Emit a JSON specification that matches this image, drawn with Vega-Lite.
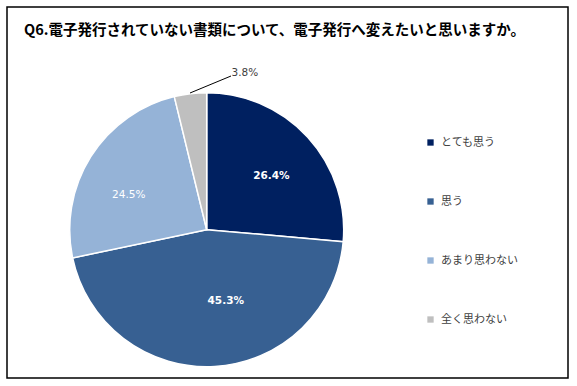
{
  "$schema": "https://vega.github.io/schema/vega-lite/v6.json",
  "width": 561,
  "height": 371,
  "autosize": "none",
  "padding": {"left": 7, "top": 7, "right": 9, "bottom": 8},
  "background": "white",
  "config": {
    "view": {"stroke": "black", "strokeWidth": 1.5},
    "font": "Noto Sans CJK JP"
  },
  "title": {
    "text": "Q6.電子発行されていない書類について、電子発行へ変えたいと思いますか。",
    "font": "Noto Sans CJK JP",
    "fontSize": 14.5,
    "fontWeight": "bold",
    "color": "#000000",
    "anchor": "middle",
    "frame": "group",
    "baseline": "middle",
    "offset": -23,
    "dx": -13,
    "dy": 15
  },
  "data": {
    "values": [
      {"cat": "とても思う", "value": 26.4, "label": "26.4%", "order": 1},
      {"cat": "思う", "value": 45.3, "label": "45.3%", "order": 2},
      {"cat": "あまり思わない", "value": 24.5, "label": "24.5%", "order": 3},
      {"cat": "全く思わない", "value": 3.8, "label": "3.8%", "order": 4}
    ]
  },
  "encoding": {
    "theta": {"field": "value", "type": "quantitative", "stack": true},
    "order": {"field": "order", "type": "ordinal"}
  },
  "layer": [
    {
      "mark": {"type": "arc", "outerRadius": 137, "stroke": "white", "strokeWidth": 1.5, "x": 199.7, "y": 222.7},
      "encoding": {
        "color": {
          "field": "cat",
          "type": "nominal",
          "scale": {
            "domain": ["とても思う", "思う", "あまり思わない", "全く思わない"],
            "range": ["#002060", "#376092", "#95B3D7", "#BFBFBF"]
          },
          "legend": {
            "title": null,
            "orient": "none",
            "legendX": 418,
            "legendY": 130,
            "symbolType": "square",
            "symbolSize": 40,
            "symbolStrokeWidth": 0,
            "labelFont": "Noto Sans CJK JP",
            "labelFontSize": 11,
            "labelColor": "#404040",
            "labelOffset": 5,
            "rowPadding": 47,
            "padding": 0
          }
        }
      }
    },
    {
      "mark": {"type": "text", "radius": 85, "x": 199.7, "y": 222.7, "dx": 2, "dy": 4, "font": "DejaVu Sans", "fontSize": 10.5, "fontWeight": "bold", "fill": "white", "align": "center", "baseline": "middle"},
      "encoding": {
        "text": {"condition": {"test": "datum.cat === 'とても思う'", "field": "label"}, "value": ""}
      }
    },
    {
      "mark": {"type": "text", "radius": 85, "x": 199.7, "y": 222.7, "dx": 14, "dy": -14, "font": "DejaVu Sans", "fontSize": 10.5, "fontWeight": "bold", "fill": "white", "align": "center", "baseline": "middle"},
      "encoding": {
        "text": {"condition": {"test": "datum.cat === '思う'", "field": "label"}, "value": ""}
      }
    },
    {
      "mark": {"type": "text", "radius": 85, "x": 199.7, "y": 222.7, "dx": -6, "dy": 11, "font": "DejaVu Sans", "fontSize": 10.5, "fontWeight": "normal", "fill": "white", "align": "center", "baseline": "middle"},
      "encoding": {
        "text": {"condition": {"test": "datum.cat === 'あまり思わない'", "field": "label"}, "value": ""}
      }
    },
    {
      "mark": {"type": "text", "radius": 158, "x": 199.7, "y": 222.7, "dx": 57, "font": "DejaVu Sans", "fontSize": 10.5, "fontWeight": "normal", "fill": "#404040", "align": "center", "baseline": "middle"},
      "encoding": {
        "text": {"condition": {"test": "datum.cat === '全く思わない'", "field": "label"}, "value": ""}
      }
    },
    {
      "transform": [{"filter": "datum.cat === '全く思わない'"}],
      "mark": {"type": "rule", "stroke": "black", "strokeWidth": 1},
      "encoding": {
        "theta": null,
        "order": null,
        "x": {"value": 183},
        "y": {"value": 86},
        "x2": {"value": 224},
        "y2": {"value": 69}
      }
    }
  ]
}
